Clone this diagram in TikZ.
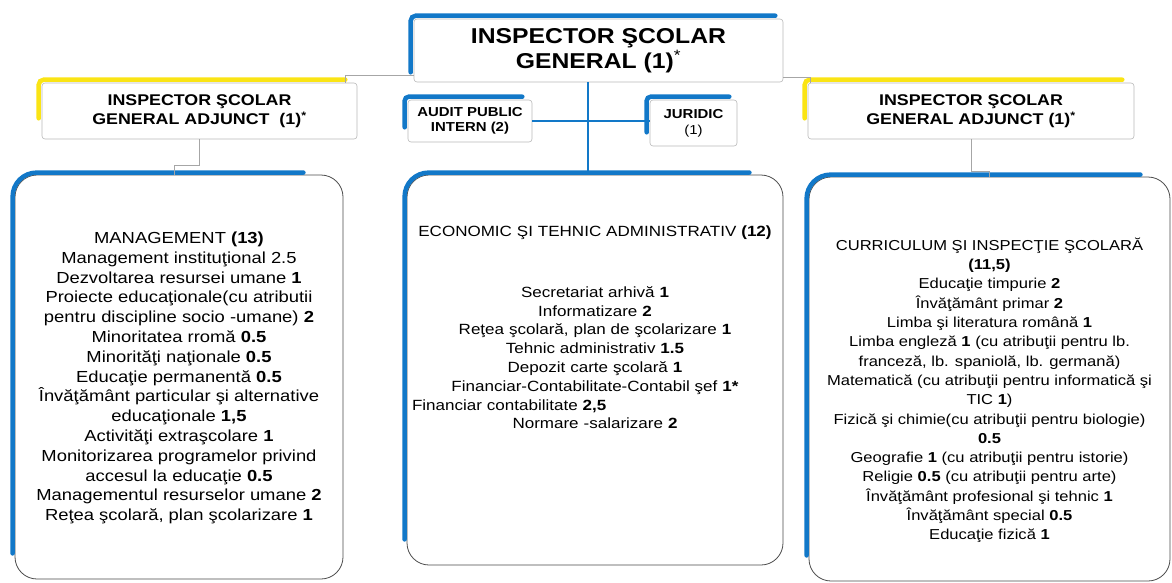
\documentclass[tikz,border=0pt]{standalone}
\usepackage{fontspec}
\setmainfont{Liberation Sans}[FakeStretch=1.15]
\usetikzlibrary{positioning}

\definecolor{inspblue}{RGB}{18,120,200}
\definecolor{adjyellow}{RGB}{250,228,20}

\tikzset{
  smallbox/.style={draw=gray!55, line width=0.6pt, fill=white, rounded corners=3pt, align=center, inner sep=0pt},
  bigbox/.style={draw=black!70, line width=0.8pt, fill=white, rounded corners=22pt, inner sep=0pt},
  bodytext/.style={align=center, inner sep=0pt},
  edgebar/.style={line width=4.5pt, line cap=round},
  trunkline/.style={draw=inspblue, line width=2.2pt},
  linkline/.style={draw=gray!70, line width=0.6pt}
}

\begin{document}
\begin{tikzpicture}[x=1pt, y=-1pt]
    \useasboundingbox (0,0) rectangle (1172,582);

    % conducerea
    \node[smallbox, minimum width=369pt, minimum height=63pt, font=\fontsize{21.5}{25}\selectfont\bfseries] (topbox) at (598.5,50.5) {INSPECTOR ŞCOLAR\\GENERAL (1)\textsuperscript{\mdseries *}};
    \node[smallbox, minimum width=315pt, minimum height=56pt, font=\fontsize{15.5}{19}\selectfont\bfseries] (adjL) at (199.5,111) {INSPECTOR ŞCOLAR\\GENERAL ADJUNCT~~(1)\textsuperscript{*}};
    \node[smallbox, minimum width=326pt, minimum height=56pt, font=\fontsize{15.5}{19}\selectfont\bfseries] (adjR) at (971,111) {INSPECTOR ŞCOLAR\\GENERAL ADJUNCT (1)\textsuperscript{*}};
    \node[smallbox, minimum width=124pt, minimum height=42pt, font=\fontsize{13}{15.5}\selectfont\bfseries] (audit) at (470,121) {AUDIT PUBLIC\\INTERN (2)};
    \node[smallbox, minimum width=87pt, minimum height=46pt, font=\fontsize{13}{16}\selectfont] (juridic) at (693.5,123) {\textbf{JURIDIC}\\(1)};

    % compartimente
    \node[bigbox, minimum width=328pt, minimum height=404pt] (mgmtbox) at (179,377) {};
    \node[bigbox, minimum width=376pt, minimum height=390pt] (ecobox) at (595,370) {};
    \node[bigbox, minimum width=361pt, minimum height=404pt] (currbox) at (989.5,379) {};

    \node[bodytext, below=57pt of mgmtbox.north, font=\fontsize{16}{19.8}\selectfont] (mgmttext) {MANAGEMENT \textbf{(13)}\\
        Management instituţional 2.5\\
        Dezvoltarea resursei umane \textbf{1}\\
        Proiecte educaţionale(cu atributii\\
        pentru discipline socio -umane) \textbf{2}\\
        Minoritatea rromă \textbf{0.5}\\
        Minorităţi naţionale \textbf{0.5}\\
        Educaţie permanentă \textbf{0.5}\\
        Învăţământ particular şi alternative\\
        educaţionale \textbf{1,5}\\
        Activităţi extraşcolare \textbf{1}\\
        Monitorizarea programelor privind\\
        accesul la educaţie \textbf{0.5}\\
        Managementul resurselor umane \textbf{2}\\
        Reţea şcolară, plan şcolarizare \textbf{1}};

    \node[bodytext, text width=366pt, below=51pt of ecobox.north, font=\fontsize{14.8}{18.8}\selectfont] (ecotext) {ECONOMIC ŞI TEHNIC ADMINISTRATIV \textbf{(12)}\\[42pt]
        Secretariat arhivă \textbf{1}\\
        Informatizare \textbf{2}\\
        Reţea şcolară, plan de şcolarizare \textbf{1}\\
        Tehnic administrativ \textbf{1.5}\\
        Depozit carte şcolară \textbf{1}\\
        Financiar-Contabilitate-Contabil şef \textbf{1*}\\
        \makebox[\linewidth][l]{Financiar contabilitate \textbf{2,5}}\\
        Normare -salarizare \textbf{2}};

    \node[bodytext, below=61pt of currbox.north, font=\fontsize{14.4}{19.3}\selectfont] (currtext) {CURRICULUM ŞI INSPECŢIE ŞCOLARĂ\\
        \textbf{(11,5)}\\
        Educaţie timpurie \textbf{2}\\
        Învăţământ primar \textbf{2}\\
        Limba şi literatura română \textbf{1}\\
        Limba engleză \textbf{1} (cu atribuţii pentru lb.\\
        franceză, lb. spaniolă, lb. germană)\\
        Matematică (cu atribuţii pentru informatică şi\\
        TIC \textbf{1})\\
        Fizică şi chimie(cu atribuţii pentru biologie)\\
        \textbf{0.5}\\
        Geografie \textbf{1} (cu atribuţii pentru istorie)\\
        Religie \textbf{0.5} (cu atribuţii pentru arte)\\
        Învăţământ profesional şi tehnic \textbf{1}\\
        Învăţământ special \textbf{0.5}\\
        Educaţie fizică \textbf{1}};

    % benzile colorate de pe marginea de sus si din stanga
    \foreach \b/\c/\r/\o/\e/\f in {topbox/inspblue/5/3/10/8, adjL/adjyellow/5/3/21/12, adjR/adjyellow/5/3/21/12,
        audit/inspblue/4/3/15/10, juridic/inspblue/4/3/14/8,
        mgmtbox/inspblue/24/2/26/40, ecobox/inspblue/24/2/26/34, currbox/inspblue/24/2/26/30}
    \draw[edgebar, draw=\c, rounded corners=\r pt] ([xshift=-\o pt, yshift=\e pt]\b.south west) |- ([xshift=-\f pt, yshift=\o pt]\b.north east);

    % legaturi
    \coordinate (fork) at (588,121);
    \draw[trunkline] (topbox.south -| fork) -- (ecobox.north -| fork);
    \draw[trunkline] (audit.east) -- (audit.east -| juridic.west);
    \draw[linkline] ([yshift=-24.5pt]topbox.west) -| ([xshift=-12pt]adjL.north east);
    \draw[linkline] ([yshift=-26.5pt]topbox.east) -| ([xshift=3pt]adjR.north west);
    \draw[linkline] (adjL.south) -- ++(0,26) -| ([xshift=-5pt]mgmtbox.north);
    \draw[linkline] (adjR.south) -- ++(0,32) -| (currbox.north);
\end{tikzpicture}
\end{document}
